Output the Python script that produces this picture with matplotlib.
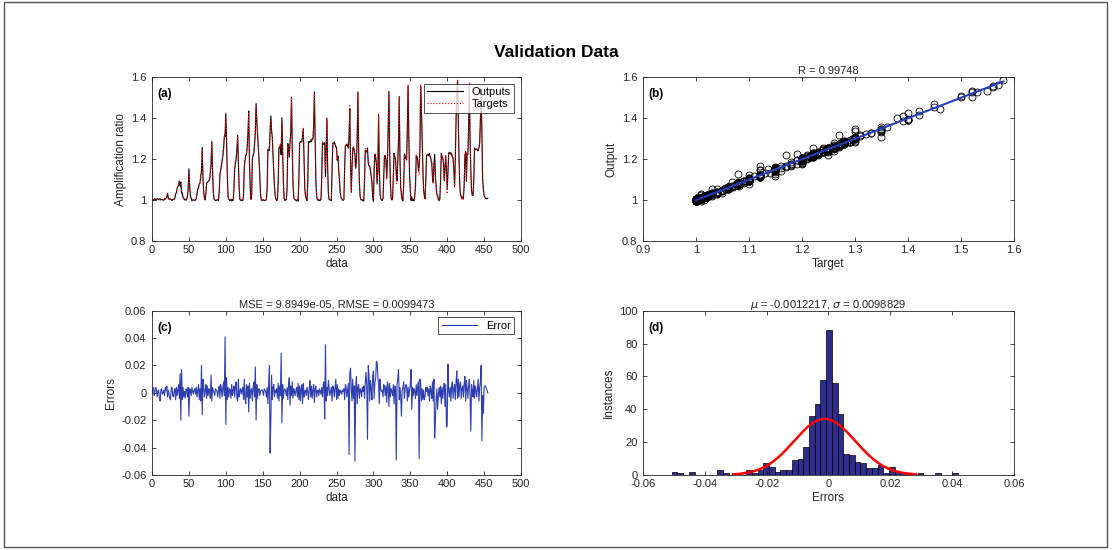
import numpy as np
import matplotlib
matplotlib.use('Agg')
from matplotlib import pyplot as plt
from matplotlib.patches import Rectangle

plt.rcParams['font.family'] = ['Liberation Sans', 'DejaVu Sans']
plt.rcParams['axes.unicode_minus'] = False

# Targets, one value per sample
targets = [
    1.000, 1.002, 1.004, 1.003, 1.006, 1.005, 1.002, 1.004, 1.006, 1.003,
    1.001, 1.000, 1.003, 1.005, 1.002, 1.000, 1.001, 1.004, 1.008, 1.012,
    1.020, 1.030, 1.012, 1.003, 1.001, 1.000, 1.004, 1.002, 1.000, 1.001,
    1.004, 1.012, 1.025, 1.040, 1.055, 1.068, 1.078, 1.088, 1.082, 1.068,
    1.050, 1.030, 1.015, 1.005, 1.001, 1.000, 1.002, 1.004, 1.015, 1.060,
    1.135, 1.070, 1.022, 1.006, 1.001, 1.000, 1.000, 1.001, 1.000, 1.002,
    1.010, 1.030, 1.055, 1.065, 1.075, 1.085, 1.110, 1.160, 1.240, 1.120,
    1.040, 1.008, 1.002, 1.040, 1.080, 1.090, 1.090, 1.095, 1.100, 1.130,
    1.190, 1.280, 1.150, 1.040, 1.005, 1.000, 1.000, 1.000, 1.001, 1.000,
    1.000, 1.040, 1.120, 1.150, 1.170, 1.190, 1.220, 1.260, 1.310, 1.350,
    1.400, 1.300, 1.120, 1.020, 1.002, 1.000, 1.000, 1.000, 1.001, 1.000,
    1.000, 1.060, 1.150, 1.180, 1.210, 1.240, 1.310, 1.200, 1.060, 1.005,
    1.000, 1.000, 1.000, 1.002, 1.020, 1.170, 1.190, 1.210, 1.230, 1.260,
    1.330, 1.420, 1.200, 1.060, 1.005, 1.030, 1.200, 1.220, 1.240, 1.270,
    1.350, 1.450, 1.390, 1.320, 1.260, 1.200, 1.120, 1.030, 1.003, 1.000,
    1.000, 1.000, 1.000, 1.000, 1.001, 1.000, 1.060, 1.240, 1.250, 1.260,
    1.300, 1.390, 1.350, 1.300, 1.220, 1.140, 1.060, 1.020, 1.003, 1.000,
    1.000, 1.100, 1.250, 1.260, 1.270, 1.250, 1.380, 1.240, 1.080, 1.010,
    1.001, 1.000, 1.000, 1.060, 1.270, 1.270, 1.220, 1.275, 1.330, 1.500,
    1.260, 1.080, 1.020, 1.003, 1.000, 1.000, 1.000, 1.000, 1.002, 1.100,
    1.280, 1.280, 1.285, 1.290, 1.300, 1.350, 1.200, 1.060, 1.020, 1.005,
    1.002, 1.080, 1.280, 1.285, 1.290, 1.290, 1.290, 1.295, 1.300, 1.360,
    1.520, 1.300, 1.100, 1.020, 1.003, 1.000, 1.000, 1.000, 1.000, 1.004,
    1.120, 1.280, 1.280, 1.280, 1.260, 1.150, 1.260, 1.400, 1.150, 1.040,
    1.005, 1.000, 1.000, 1.002, 1.150, 1.280, 1.280, 1.280, 1.275, 1.270,
    1.250, 1.200, 1.210, 1.150, 1.090, 1.040, 1.015, 1.005, 1.001, 1.000,
    1.005, 1.150, 1.270, 1.270, 1.270, 1.265, 1.260, 1.270, 1.460, 1.200,
    1.040, 1.150, 1.260, 1.255, 1.250, 1.170, 1.160, 1.200, 1.300, 1.530,
    1.250, 1.080, 1.020, 1.003, 1.000, 1.000, 1.000, 1.000, 1.100, 1.250,
    1.250, 1.240, 1.220, 1.200, 1.180, 1.160, 1.150, 1.120, 1.080, 1.030,
    1.010, 1.150, 1.230, 1.220, 1.200, 1.100, 1.150, 1.420, 1.150, 1.040,
    1.008, 1.001, 1.000, 1.005, 1.120, 1.220, 1.215, 1.200, 1.100, 1.200,
    1.350, 1.520, 1.250, 1.080, 1.010, 1.001, 1.005, 1.120, 1.220, 1.215,
    1.200, 1.080, 1.100, 1.200, 1.300, 1.500, 1.200, 1.060, 1.010, 1.002,
    1.000, 1.080, 1.220, 1.215, 1.210, 1.200, 1.350, 1.560, 1.300, 1.120,
    1.050, 1.015, 1.004, 1.001, 1.000, 1.000, 1.020, 1.060, 1.220, 1.210,
    1.200, 1.150, 1.120, 1.250, 1.560, 1.450, 1.300, 1.150, 1.050, 1.015,
    1.003, 1.100, 1.220, 1.222, 1.222, 1.220, 1.220, 1.215, 1.200, 1.180,
    1.120, 1.080, 1.180, 1.190, 1.100, 1.060, 1.030, 1.010, 1.003, 1.000,
    1.002, 1.100, 1.220, 1.215, 1.200, 1.180, 1.100, 1.150, 1.220, 1.120,
    1.030, 1.150, 1.230, 1.230, 1.228, 1.225, 1.222, 1.220, 1.200, 1.150,
    1.070, 1.200, 1.400, 1.520, 1.580, 1.400, 1.200, 1.080, 1.030, 1.015,
    1.008, 1.020, 1.004, 1.080, 1.230, 1.230, 1.100, 1.230, 1.220, 1.350,
    1.570, 1.300, 1.120, 1.050, 1.025, 1.020, 1.100, 1.250, 1.250, 1.248,
    1.245, 1.245, 1.250, 1.250, 1.280, 1.400, 1.550, 1.300, 1.100, 1.040,
    1.025, 1.020, 1.012, 1.010, 1.008, 1.008,
]

# Errors
errors = [
    0.000, 0.003, 0.004, -0.002, 0.001, 0.004, 0.002, -0.003, 0.001, 0.002,
    -0.004, -0.006, 0.002, 0.003, -0.001, 0.000, 0.002, -0.002, 0.004, 0.002,
    0.005, -0.003, 0.002, -0.001, -0.004, -0.005, 0.003, 0.004, -0.002, -0.003,
    0.001, 0.003, -0.005, 0.004, -0.002, 0.002, 0.006, -0.004, 0.014, -0.020,
    0.017, -0.005, 0.004, -0.003, 0.001, -0.004, 0.003, 0.002, -0.003, 0.004,
    -0.017, 0.003, 0.002, -0.002, 0.004, 0.001, -0.001, 0.002, 0.003, -0.001,
    0.004, -0.003, 0.002, 0.006, -0.005, 0.003, -0.006, 0.020, -0.016, 0.010,
    0.004, -0.003, 0.002, 0.006, -0.004, 0.005, -0.002, 0.003, 0.001, -0.004,
    0.013, -0.006, 0.004, 0.002, 0.000, -0.002, 0.003, 0.002, 0.001, -0.003,
    0.002, 0.005, -0.004, 0.006, 0.003, -0.003, 0.004, 0.008, -0.002, 0.041,
    -0.023, 0.011, -0.005, 0.004, -0.003, 0.003, 0.002, -0.004, 0.006, -0.002,
    0.002, 0.005, -0.003, 0.004, 0.008, -0.004, -0.006, 0.010, -0.003, 0.001,
    0.003, -0.001, 0.002, 0.004, -0.005, 0.010, -0.004, -0.008, 0.006, -0.003,
    0.005, -0.014, 0.007, -0.004, 0.002, 0.003, -0.006, 0.004, 0.008, -0.003,
    0.019, -0.020, 0.006, -0.004, 0.002, 0.003, -0.002, 0.001, 0.002, 0.002,
    0.001, -0.002, 0.003, 0.002, 0.001, -0.003, 0.004, -0.008, 0.006, 0.020,
    -0.044, -0.020, 0.013, -0.005, 0.004, 0.006, -0.003, 0.002, 0.000, 0.003,
    -0.004, 0.007, -0.006, 0.005, -0.002, 0.029, -0.022, 0.006, -0.004, 0.002,
    0.003, 0.001, -0.002, 0.004, -0.005, 0.006, 0.011, -0.009, 0.005, -0.002,
    0.008, -0.004, 0.003, 0.001, -0.002, 0.002, 0.004, -0.003, 0.007, -0.005,
    0.005, -0.006, 0.003, 0.006, -0.008, 0.007, -0.003, 0.001, 0.002, -0.002,
    0.004, 0.001, -0.005, 0.003, 0.009, -0.003, 0.005, -0.004, 0.002, 0.006,
    -0.007, 0.003, 0.005, -0.003, 0.001, 0.002, -0.002, 0.003, 0.001, -0.001,
    0.004, -0.003, 0.006, 0.008, -0.019, 0.035, -0.006, 0.004, -0.002, 0.009,
    0.003, -0.002, 0.001, 0.004, -0.006, 0.005, 0.003, -0.003, 0.004, 0.010,
    -0.005, 0.006, -0.004, 0.003, -0.002, 0.002, 0.001, -0.001, 0.002, 0.001,
    0.003, -0.005, 0.006, 0.004, -0.003, 0.002, 0.007, -0.045, 0.014, 0.018,
    0.003, -0.006, 0.010, -0.004, 0.005, -0.050, 0.005, 0.012, -0.008, 0.004,
    0.006, -0.004, 0.003, 0.002, -0.003, 0.004, 0.001, 0.005, -0.004, 0.008,
    0.015, 0.005, -0.034, 0.020, 0.014, -0.006, 0.009, 0.003, -0.005, 0.012,
    0.016, -0.004, 0.008, 0.010, 0.023, 0.022, 0.012, 0.006, -0.008, 0.010,
    0.003, 0.001, 0.002, -0.003, 0.006, 0.004, -0.002, 0.005, -0.007, 0.008,
    0.005, -0.010, 0.007, -0.003, 0.003, 0.001, -0.002, 0.006, -0.008, 0.005,
    0.004, -0.049, 0.006, 0.010, 0.017, -0.005, 0.004, -0.003, -0.017, 0.002,
    0.004, 0.008, -0.004, 0.003, 0.006, 0.005, -0.006, 0.004, -0.003, 0.002,
    0.006, 0.017, -0.012, 0.004, -0.002, 0.003, 0.001, -0.004, 0.006, -0.002,
    0.004, 0.008, -0.048, 0.010, 0.007, -0.006, 0.003, -0.005, 0.002, -0.005,
    -0.003, 0.004, 0.001, 0.004, -0.002, 0.003, -0.006, 0.005, 0.002, -0.004,
    0.008, -0.006, 0.010, -0.033, -0.020, -0.005, 0.003, -0.012, -0.002, 0.004,
    -0.003, 0.005, -0.008, 0.004, -0.004, 0.003, 0.007, -0.010, 0.006, -0.025,
    -0.024, 0.021, 0.002, -0.003, 0.004, -0.006, 0.005, 0.008, -0.004, 0.003,
    0.006, -0.005, 0.008, 0.016, -0.004, 0.010, -0.003, 0.006, 0.008, -0.004,
    0.003, 0.005, -0.003, 0.007, 0.012, -0.006, 0.009, 0.003, -0.004, 0.005,
    0.010, -0.002, -0.028, 0.006, 0.002, -0.003, 0.009, -0.004, 0.005, 0.002,
    -0.003, 0.004, 0.010, -0.006, 0.004, 0.008, 0.020, -0.035, -0.002, -0.015,
    0.004, 0.005, 0.005, 0.003, 0.002, 0.000,
]

# Histogram of panel (d): 50 bins from the min error, counts
hist_start = -0.0507
hist_width = 0.00185
hist_counts = [2, 1, 0, 2, 0, 0, 0, 0, 3, 1,
               0, 0, 0, 3, 1, 3, 7, 5, 2, 3,
               3, 9, 10, 17, 36, 43, 58, 88, 56, 37,
               13, 12, 8, 7, 4, 4, 6, 1, 5, 2,
               1, 1, 0, 1, 0, 0, 1, 0, 0, 1]
err_mu = -0.0012217
err_sigma = 0.0098829

targets = np.array(targets)
errors = np.array(errors)
outputs = targets - errors
idx = np.arange(len(targets))

fig = plt.figure(figsize=(11.13, 5.5), dpi=100)
fig.patches.append(Rectangle((0.004, 0.006), 0.991, 0.99, transform=fig.transFigure,
                             fill=False, edgecolor='#555555', lw=1.0))
fig.text(0.5, 0.905, 'Validation Data', ha='center', va='center',
         fontsize=12.5, fontweight='bold')

ax_a = fig.add_axes([0.1366, 0.5618, 0.3315, 0.2982])
ax_b = fig.add_axes([0.5777, 0.5618, 0.3333, 0.2982])
ax_c = fig.add_axes([0.1366, 0.1364, 0.3315, 0.2987])
ax_d = fig.add_axes([0.5777, 0.1364, 0.3333, 0.2987])

gray = '#262626'
for ax, letter in zip([ax_a, ax_b, ax_c, ax_d], ['(a)', '(b)', '(c)', '(d)']):
    ax.tick_params(direction='in', top=True, right=True, length=3, width=0.6,
                   labelsize=8, colors=gray)
    ax.tick_params(axis='x', pad=3)
    ax.tick_params(axis='y', pad=4)
    for s in ax.spines.values():
        s.set_color(gray)
        s.set_linewidth(0.6)
    ax.text(0.015, 0.93, letter, transform=ax.transAxes, fontsize=8.5,
            fontweight='bold', va='top', ha='left')

# (a) outputs vs targets
ax_a.plot(idx, outputs, color='black', lw=0.8, label='Outputs')
ax_a.plot(idx, targets, color='red', lw=0.8, ls=':', label='Targets')
ax_a.set_xlim(0, 500)
ax_a.set_ylim(0.8, 1.6)
ax_a.set_xticks(np.arange(0, 501, 50))
ax_a.set_yticks([0.8, 1.0, 1.2, 1.4, 1.6])
ax_a.yaxis.set_major_formatter(matplotlib.ticker.FormatStrFormatter('%g'))
ax_a.set_xlabel('data', fontsize=8.5, color=gray, labelpad=2)
ax_a.set_ylabel('Amplification ratio', fontsize=8.5, color=gray, labelpad=3)
leg = ax_a.legend(loc='upper right', fontsize=8, fancybox=False, edgecolor='black',
                  borderaxespad=0.6, handlelength=3.2, borderpad=0.3, labelspacing=0.2)
leg.get_frame().set_linewidth(0.6)

# (b) regression
fit = np.polyfit(targets, outputs, 1)
tline = np.array([targets.min(), targets.max()])
ax_b.plot(targets, outputs, 'o', mfc='none', mec='black', ms=5, mew=0.6)
ax_b.plot(tline, np.polyval(fit, tline), color='#1f3fbf', lw=1.5)
ax_b.set_xlim(0.9, 1.6)
ax_b.set_ylim(0.8, 1.6)
ax_b.set_xticks(np.arange(0.9, 1.61, 0.1))
ax_b.set_yticks([0.8, 1.0, 1.2, 1.4, 1.6])
ax_b.xaxis.set_major_formatter(matplotlib.ticker.FormatStrFormatter('%g'))
ax_b.yaxis.set_major_formatter(matplotlib.ticker.FormatStrFormatter('%g'))
ax_b.set_xlabel('Target', fontsize=8.5, color=gray, labelpad=2)
ax_b.set_ylabel('Output', fontsize=8.5, color=gray, labelpad=3)
ax_b.set_title('R = 0.99748', fontsize=8, color=gray, pad=2)

# (c) error series
ax_c.plot(idx, errors, color='#2f3fb0', lw=0.8, label='Error')
ax_c.set_xlim(0, 500)
ax_c.set_ylim(-0.06, 0.06)
ax_c.set_xticks(np.arange(0, 501, 50))
ax_c.set_yticks(np.arange(-0.06, 0.061, 0.02))
ax_c.yaxis.set_major_formatter(matplotlib.ticker.FuncFormatter(
    lambda v, p: '0' if abs(v) < 1e-9 else '%g' % round(v, 2)))
ax_c.set_xlabel('data', fontsize=8.5, color=gray, labelpad=2)
ax_c.set_ylabel('Errors', fontsize=8.5, color=gray, labelpad=3)
ax_c.set_title('MSE = 9.8949e-05, RMSE = 0.0099473', fontsize=8, color=gray, pad=2)
leg = ax_c.legend(loc='upper right', fontsize=8, fancybox=False, edgecolor='black',
                  borderaxespad=0.6, handlelength=3.2, borderpad=0.3)
leg.get_frame().set_linewidth(0.6)

# (d) error histogram with normal fit
centers = hist_start + (np.arange(len(hist_counts)) + 0.5) * hist_width
ax_d.bar(centers, hist_counts, width=hist_width, color='#2d2d8c',
         edgecolor='black', linewidth=0.5)
xs = np.linspace(err_mu - 3 * err_sigma, err_mu + 3 * err_sigma, 200)
scale = sum(hist_counts) * hist_width / (err_sigma * np.sqrt(2 * np.pi))
ax_d.plot(xs, scale * np.exp(-0.5 * ((xs - err_mu) / err_sigma) ** 2), color='red', lw=1.8)
ax_d.set_xlim(-0.06, 0.06)
ax_d.set_ylim(0, 100)
ax_d.set_xticks(np.arange(-0.06, 0.061, 0.02))
ax_d.xaxis.set_major_formatter(matplotlib.ticker.FuncFormatter(
    lambda v, p: '0' if abs(v) < 1e-9 else '%g' % round(v, 2)))
ax_d.set_yticks(np.arange(0, 101, 20))
ax_d.set_xlabel('Errors', fontsize=8.5, color=gray, labelpad=2)
ax_d.set_ylabel('Instances', fontsize=8.5, color=gray, labelpad=3)
ax_d.set_title(r'$\mu$ = -0.0012217, $\sigma$ = 0.0098829', fontsize=8, color=gray, pad=2)

fig.savefig('out.png', dpi=100)
